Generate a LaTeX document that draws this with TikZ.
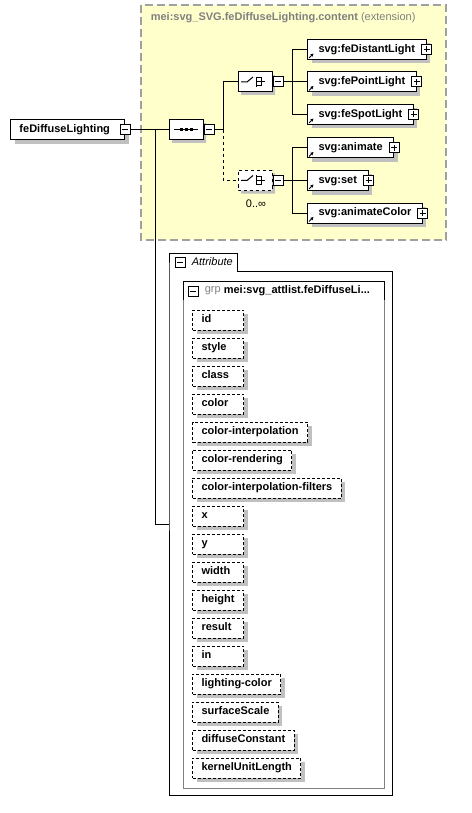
\documentclass[tikz,border=0pt]{standalone}
\usepackage{fontspec}
\setmainfont{Liberation Sans}
\definecolor{xsYellow}{HTML}{FFFFCC}
\definecolor{xsDash}{HTML}{A0A0A0}
\definecolor{xsShadow}{HTML}{C0C0C0}
\definecolor{xsGray}{HTML}{808080}
\usetikzlibrary{calc,positioning,arrows.meta,shapes.misc,shadows}

% left aligned text, at least 33pt wide
\newcommand\attrtext[1]{\setbox0\hbox{#1}\ifdim\wd0<33pt\makebox[33pt][l]{#1}\else\box0\fi}

\tikzset{
  shade box/.style={drop shadow={shadow xshift=4pt, shadow yshift=-4pt, fill=xsShadow, opacity=1}},
  elem/.style={draw, fill=white, anchor=west, minimum height=20pt, inner xsep=11pt, inner ysep=0pt,
    text height=8pt, text depth=2.5pt, font=\fontsize{11}{13}\selectfont\bfseries, shade box},
  attr/.style={elem, dash pattern=on 3pt off 2pt, inner xsep=9pt},
  compositor/.style={draw, fill=white, chamfered rectangle, chamfered rectangle xsep=6pt,
    minimum width=34pt, minimum height=20pt, inner sep=0pt,
    drop shadow={shadow xshift=3pt, shadow yshift=-3pt, fill=xsShadow, opacity=1}},
  collapse/.pic={\draw[fill=white] (-5,-5) rectangle (5,5); \draw (-3,0) -- (3,0);},
  expand/.pic={\draw[fill=white] (-5,-5) rectangle (5,5); \draw (-3,0) -- (3,0) (0,-3) -- (0,3);},
  reflink/.pic={\draw[line width=1pt, -{Triangle[length=3pt,width=3pt]}] (0,0) -- (4.5,-4.5);},
  choiceicon/.pic={
    \draw (-14,0) -- (-8,0) -- (-2,-5);
    \draw (1,-5) -- (1,5);
    \draw (1,-4) -- (6,-4) -- (6,4) -- (1,4) (1,0) -- (10,0);}
}

\begin{document}
\begin{tikzpicture}[x=1pt, y=-1pt, line width=1pt]
  \useasboundingbox (0,0) rectangle (471,813);

  % extension group
  \draw[fill=xsYellow, draw=xsDash, line width=1.3pt, dash pattern=on 8pt off 4pt] (141,5) rectangle (446,240);
  \node[anchor=west, text=xsGray, font=\fontsize{11}{13}\selectfont] (title) at (147,18)
    {\textbf{mei:svg\_SVG.feDiffuseLighting.content} (extension)};

  % root element
  \node[elem, inner xsep=0pt] (root) at (10,130) {\kern9pt feDiffuseLighting\kern15pt};

  % sequence and choices
  \node[compositor] (seq) at (186,130) {};
  \node[compositor] (ch1) at (255,82) {};
  \node[compositor, dashed] (ch2) at (255,180.5) {};
  \node[font=\fontsize{11}{13}\selectfont] (ch2card) at (256,204) {0..∞};
  \draw (seq.center) ++(-12,0) -- ++(24,0);
  \foreach \dx in {-5,0,5}
    \fill ($(seq.center)+(\dx,0)$) ++(-1.5,-1.5) rectangle ++(3,3);
  \pic at (ch1.center) {choiceicon};
  \pic at (ch2.center) {choiceicon};

  % child elements
  \node[elem] (dist) at (307,49.5) {svg:feDistantLight};
  \node[elem] (point) at (307,82) {svg:fePointLight};
  \node[elem] (spot) at (307,114.5) {svg:feSpotLight};
  \node[elem] (anim) at (307,148) {svg:animate};
  \node[elem] (set) at (307,180.5) {svg:set};
  \node[elem] (animcol) at (307,213) {svg:animateColor};

  % connectors
  \coordinate (split) at (155,130);
  \coordinate (seqfork) at (223,130);
  \coordinate (ch1fork) at (292,82);
  \coordinate (ch2fork) at (292,180.5);
  \coordinate (attrin) at (169,524);
  \draw (root.east) -- (seq.west);
  \draw (split) |- (attrin);
  \draw (seq.east) -- (seqfork) |- (ch1.west);
  \draw[dashed] (seqfork) |- (ch2.west);
  \draw (ch1.east) -- (ch1fork);
  \draw (ch2.east) -- (ch2fork);
  \foreach \n in {dist,point,spot}
    \draw (ch1fork) |- (\n.west);
  \foreach \n in {anim,set,animcol}
    \draw (ch2fork) |- (\n.west);

  % toggles
  \pic at (root.east) {collapse};
  \pic at ([xshift=5.5pt]seq.east) {collapse};
  \pic at ([xshift=5.5pt]ch1.east) {collapse};
  \pic at ([xshift=5.5pt]ch2.east) {collapse};
  \foreach \n in {dist,point,spot,anim,set,animcol} {
    \pic at (\n.east) {expand};
    \pic at ([xshift=2pt,yshift=2pt]\n.south west) {reflink};
  }

  % attributes
  \draw (169,271) -- (169,253) -- (237,253) -- (237,271) -- (392,271) -- (392,795) -- (169,795) -- cycle;
  \pic at (180,262) {collapse};
  \node[anchor=west, font=\fontsize{11}{13}\selectfont\itshape] (attrtab) at (188,262) {Attribute};
  \draw[xsGray] (183,281) rectangle (384,788);
  \draw (183,300) |- (384,281) -- (384,300);
  \pic at (193,291) {collapse};
  \node[anchor=west, text=xsGray, font=\fontsize{11}{13}\selectfont] (grp) at (201,291) {grp};
  \node[anchor=west, font=\fontsize{11}{13}\selectfont\bfseries] (grpname) at (220,291) {mei:svg\_attlist.feDiffuseLi...};
  \foreach \name [count=\i from 0] in {id, style, class, color, color-interpolation, color-rendering,
      color-interpolation-filters, x, y, width, height, result, in, lighting-color,
      surfaceScale, diffuseConstant, kernelUnitLength}
    \node[attr] (at\i) at (192,{320+28*\i}) {\attrtext{\name}};
\end{tikzpicture}
\end{document}
